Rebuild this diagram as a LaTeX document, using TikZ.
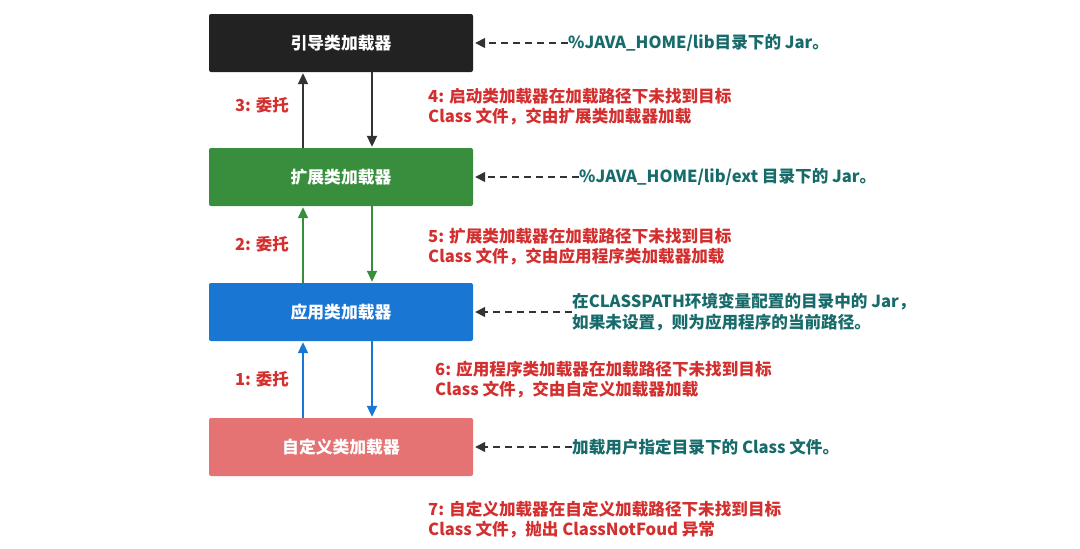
\documentclass[tikz,border=0pt]{standalone}
\usepackage{fontspec}
\setmainfont{Noto Sans CJK SC}
\usetikzlibrary{arrows.meta}
\definecolor{bootblack}{HTML}{222222}
\definecolor{extgreen}{HTML}{388E3C}
\definecolor{appblue}{HTML}{1976D2}
\definecolor{custompink}{HTML}{E57373}
\definecolor{notered}{HTML}{D32F2F}
\definecolor{pathteal}{HTML}{176B6B}
\definecolor{dashgray}{HTML}{333333}
\tikzset{
  loader/.style={rectangle, rounded corners=2pt, minimum width=264pt, minimum height=58pt,
    text=white, font=\fontsize{16.8}{20}\selectfont\bfseries},
  delegate/.style={text=notered, inner sep=0pt, font=\fontsize{16.5}{20}\selectfont\bfseries},
  note/.style={text=notered, anchor=west, align=left, inner sep=0pt, font=\fontsize{16.6}{20}\selectfont\bfseries},
  source/.style={text=pathteal, anchor=west, align=left, inner sep=0pt, font=\fontsize{16.6}{21}\selectfont\bfseries},
  flow/.style={-{Triangle[length=11pt,width=10pt]}, line width=2pt, shorten >=1pt},
  lookup/.style={-{Triangle[length=10pt,width=10pt]}, draw=dashgray, line width=1.6pt,
    dash pattern=on 7pt off 5pt, shorten >=2pt}
}
\begin{document}
\begin{tikzpicture}[x=1pt,y=-1pt]
\useasboundingbox (0,0) rectangle (1080,549);
% class loaders
\node[loader, fill=bootblack] (boot) at (341,43) {引导类加载器};
\node[loader, fill=extgreen] (ext) at (341,177) {扩展类加载器};
\node[loader, fill=appblue] (app) at (341,312) {应用类加载器};
\node[loader, fill=custompink] (custom) at (341,447) {自定义类加载器};
% delegate up, load down
\draw[flow, draw=dashgray] ([xshift=-38pt]ext.north) -- ([xshift=-38pt]boot.south);
\draw[flow, draw=dashgray] ([xshift=31pt]boot.south) -- ([xshift=31pt]ext.north);
\draw[flow, draw=extgreen] ([xshift=-38pt]app.north) -- ([xshift=-38pt]ext.south);
\draw[flow, draw=extgreen] ([xshift=31pt]ext.south) -- ([xshift=31pt]app.north);
\draw[flow, draw=appblue] ([xshift=-38pt]custom.north) -- ([xshift=-38pt]app.south);
\draw[flow, draw=appblue] ([xshift=31pt]app.south) -- ([xshift=31pt]custom.north);
\node[delegate] (d3) at (262,105) {3: 委托};
\node[delegate] (d2) at (262,244) {2: 委托};
\node[delegate] (d1) at (262,379) {1: 委托};
% red notes
\node[note] (n4) at (428,107) {4: 启动类加载器在加载路径下未找到目标\\Class 文件，交由扩展类加载器加载};
\node[note] (n5) at (428,247) {5: 扩展类加载器在加载路径下未找到目标\\Class 文件，交由应用程序类加载器加载};
\node[note] (n6) at (435,380) {6: 应用程序类加载器在加载路径下未找到目标\\Class 文件，交由自定义加载器加载};
\node[note] (n7) at (428,520) {7: 自定义加载器在自定义加载路径下未找到目标\\Class 文件，抛出 ClassNotFoud 异常};
% load paths
\node[source] (jboot) at (568,43) {\%JAVA\_HOME/lib目录下的 Jar。};
\node[source] (jext) at (579,177) {\%JAVA\_HOME/lib/ext 目录下的 Jar。};
\node[source] (japp) at (572,312) {在CLASSPATH环境变量配置的目录中的 Jar，\\如果未设置，则为应用程序的当前路径。};
\node[source] (jcustom) at (572,447) {加载用户指定目录下的 Class 文件。};
\draw[lookup] (jboot.west) -- (boot.east);
\draw[lookup] (jext.west) -- (ext.east);
\draw[lookup] (japp.west) -- (app.east);
\draw[lookup] (jcustom.west) -- (custom.east);
\end{tikzpicture}
\end{document}
